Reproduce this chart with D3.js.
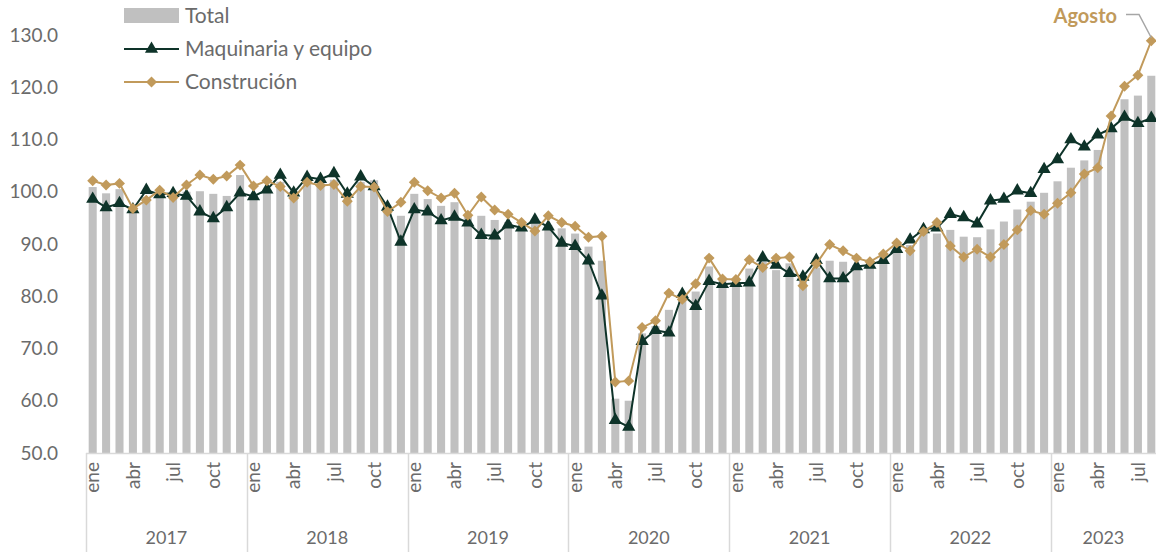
<!DOCTYPE html>
<html>
<head>
<meta charset="utf-8">
<script src="https://cdn.jsdelivr.net/npm/d3@7"></script>
<style>
  html, body { margin: 0; padding: 0; background: #fff; }
  svg { display: block; font-family: Lato, "Open Sans", sans-serif; }
</style>
</head>
<body>
<svg id="chart" width="1156" height="552"></svg>
<script>
const years = ["2017", "2018", "2019", "2020", "2021", "2022", "2023"];
const monthNames = ["ene", "feb", "mar", "abr", "may", "jun", "jul", "ago", "sep", "oct", "nov", "dic"];
const shownMonths = ["ene", "abr", "jul", "oct"];
const yTicks = [50, 60, 70, 80, 90, 100, 110, 120, 130];

const total = [
  100.9, 99.7, 100.5, 96.5, 99.0, 99.7, 99.4, 100.0, 100.1, 99.6, 99.2, 103.2,
  99.5, 100.5, 101.9, 99.7, 102.2, 102.0, 102.3, 98.6, 101.9, 102.2, 96.8, 95.4,
  99.6, 98.6, 97.3, 98.0, 95.6, 95.4, 94.6, 94.2, 93.0, 94.0, 93.6, 93.0,
  92.0, 89.5, 86.8, 60.4, 60.0, 72.9, 74.3, 77.4, 79.5, 80.9, 85.7, 83.4,
  82.8, 85.3, 86.6, 85.0, 86.3, 83.5, 85.5, 86.8, 86.6, 86.0, 87.0, 87.8,
  88.7, 89.8, 92.5, 92.0, 92.7, 91.4, 91.3, 92.8, 94.3, 96.6, 98.1, 99.8,
  102.0, 104.6, 106.0, 108.0, 112.5, 117.7, 118.4, 122.2
];
const maquinaria = [
  98.6, 97.0, 97.8, 96.6, 100.3, 99.5, 99.7, 99.2, 96.2, 94.9, 97.0, 99.8,
  99.1, 100.4, 103.2, 99.8, 102.8, 102.4, 103.5, 99.6, 102.9, 101.0, 97.1, 90.4,
  96.6, 96.2, 94.5, 95.2, 94.1, 91.7, 91.6, 93.7, 93.1, 94.6, 93.3, 90.2,
  89.6, 86.8, 80.1, 56.3, 55.0, 71.4, 73.5, 73.0, 80.4, 78.1, 82.9, 82.3,
  82.5, 82.6, 87.4, 86.0, 84.4, 83.7, 86.9, 83.4, 83.4, 85.7, 86.0, 86.9,
  89.0, 90.8, 92.8, 93.1, 95.7, 95.1, 93.9, 98.3, 98.6, 100.2, 99.7, 104.3,
  106.2, 110.0, 108.6, 110.9, 112.1, 114.3, 113.1, 114.1
];
const construccion = [
  102.1, 101.3, 101.6, 96.8, 98.4, 100.3, 98.9, 101.3, 103.2, 102.4, 103.0, 105.1,
  101.1, 102.1, 101.0, 98.8, 101.8, 101.2, 101.4, 98.2, 101.0, 100.9, 96.2, 98.0,
  101.8, 100.2, 98.8, 99.7, 95.5, 99.0, 96.5, 95.7, 94.1, 92.5, 95.4, 94.1,
  93.4, 91.3, 91.5, 63.6, 63.8, 74.0, 75.3, 80.6, 79.4, 82.4, 87.3, 83.3,
  83.2, 87.0, 85.5, 87.3, 87.5, 82.0, 86.2, 89.9, 88.7, 87.3, 86.6, 88.1,
  90.2, 88.7, 92.4, 94.1, 89.6, 87.5, 89.0, 87.5, 89.9, 92.7, 96.4, 95.7,
  97.8, 99.8, 103.4, 104.6, 114.5, 120.2, 122.3, 128.9
];
const seriesNames = ["Total", "Maquinaria y equipo", "Construción"];
const annotationText = "Agosto";

// periods
const periods = [];
years.forEach(y => monthNames.forEach(m => { if (periods.length < total.length) periods.push({ year: y, month: m }); }));
periods.forEach((p, i) => { p.i = i; p.total = total[i]; p.maq = maquinaria[i]; p.con = construccion[i]; });

const colors = { total: "#c0c0c0", maq: "#0e3329", con: "#c19a5b", text: "#6b6b6b", axis: "#d9d9d9" };

const svg = d3.select("#chart");
const x0 = 86, step = 13.4;
const x = d3.scaleBand().domain(periods.map(p => p.i)).range([x0, x0 + step * periods.length]).paddingInner(0.4).paddingOuter(0.2);
const y = d3.scaleLinear().domain([50, 130]).range([453, 35]);
const cx = i => x(i) + x.bandwidth() / 2;

// y axis labels
const yAxis = d3.axisLeft(y).tickValues(yTicks).tickFormat(d3.format(".1f")).tickSize(0).tickPadding(0);
const gy = svg.append("g").attr("transform", "translate(58,0)").call(yAxis);
gy.select(".domain").remove();
gy.selectAll("text").attr("fill", colors.text).style("font-size", "19px").style("font-family", "Lato, sans-serif");

// bars
svg.append("g").selectAll("rect").data(periods).join("rect")
  .attr("x", d => x(d.i)).attr("width", x.bandwidth())
  .attr("y", d => y(d.total)).attr("height", d => y(50) - y(d.total))
  .attr("fill", colors.total);

// x axis baseline
const xEnd = 1156;
svg.append("line").attr("x1", x0).attr("x2", xEnd).attr("y1", y(50) + 0.5).attr("y2", y(50) + 0.5)
  .attr("stroke", colors.axis).attr("stroke-width", 1.5);

// year separators
const yearStarts = years.map((yr, k) => periods.findIndex(p => p.year === yr));
yearStarts.forEach(s => {
  const xs = Math.round(x(s) - x.step() * x.paddingInner() / 2) + 0.5;
  svg.append("line").attr("x1", xs).attr("x2", xs).attr("y1", y(50)).attr("y2", 552)
    .attr("stroke", colors.axis).attr("stroke-width", 1.5);
});

// month labels
svg.append("g").selectAll("text").data(periods.filter(p => shownMonths.includes(p.month))).join("text")
  .attr("transform", d => `translate(${cx(d.i)},462) rotate(-90)`)
  .attr("text-anchor", "end").attr("dy", "0.35em")
  .attr("fill", colors.text).style("font-size", "19px")
  .text(d => d.month);

// year labels
years.forEach((yr, k) => {
  const idx = periods.filter(p => p.year === yr);
  const first = idx[0].i, last = idx[idx.length - 1].i;
  const left = x(first) - x.step() * 0.2;
  const right = k < years.length - 1 ? x(last) + x.bandwidth() + x.step() * 0.2 : xEnd;
  svg.append("text").attr("x", (left + right) / 2).attr("y", 544)
    .attr("text-anchor", "middle").attr("fill", colors.text).style("font-size", "18px").text(yr);
});

// lines
const lineMaq = d3.line().x(d => cx(d.i)).y(d => y(d.maq));
const lineCon = d3.line().x(d => cx(d.i)).y(d => y(d.con));
const triangle = d3.symbol().type(d3.symbolTriangle).size(75);
const diamond = d3.symbol().type(d3.symbolSquare).size(60);

svg.append("path").datum(periods).attr("d", lineMaq).attr("fill", "none").attr("stroke", colors.maq).attr("stroke-width", 2);
svg.append("g").selectAll("path").data(periods).join("path")
  .attr("d", triangle).attr("transform", d => `translate(${cx(d.i)},${y(d.maq)})`).attr("fill", colors.maq);

svg.append("path").datum(periods).attr("d", lineCon).attr("fill", "none").attr("stroke", colors.con).attr("stroke-width", 2);
svg.append("g").selectAll("path").data(periods).join("path")
  .attr("d", diamond).attr("transform", d => `translate(${cx(d.i)},${y(d.con)}) rotate(45)`).attr("fill", colors.con);

// legend
const lg = svg.append("g");
const lfs = "21px";
lg.append("rect").attr("x", 124).attr("y", 8).attr("width", 55).attr("height", 15).attr("fill", colors.total);
lg.append("text").attr("x", 185).attr("y", 16).attr("dy", "0.35em").attr("fill", colors.text).style("font-size", lfs).text(seriesNames[0]);
lg.append("line").attr("x1", 124).attr("x2", 179).attr("y1", 49).attr("y2", 49).attr("stroke", colors.maq).attr("stroke-width", 2);
lg.append("path").attr("d", triangle).attr("transform", "translate(151.5,49)").attr("fill", colors.maq);
lg.append("text").attr("x", 185).attr("y", 49).attr("dy", "0.35em").attr("fill", colors.text).style("font-size", lfs).text(seriesNames[1]);
lg.append("line").attr("x1", 124).attr("x2", 179).attr("y1", 82).attr("y2", 82).attr("stroke", colors.con).attr("stroke-width", 2);
lg.append("path").attr("d", diamond).attr("transform", "translate(151.5,82) rotate(45)").attr("fill", colors.con);
lg.append("text").attr("x", 185).attr("y", 82).attr("dy", "0.35em").attr("fill", colors.text).style("font-size", lfs).text(seriesNames[2]);

// annotation
const lastP = periods[periods.length - 1];
const ax = cx(lastP.i), ay = y(lastP.con);
svg.append("path").attr("d", `M${1126},${14.5} L${1139},${14.5} L${ax},${ay - 3}`)
  .attr("fill", "none").attr("stroke", "#a6a6a6").attr("stroke-width", 1.5);
svg.append("text").attr("x", 1117).attr("y", 16).attr("dy", "0.35em").attr("text-anchor", "end")
  .attr("fill", colors.con).style("font-size", "20px").style("font-weight", "bold").text(annotationText);
</script>
</body>
</html>
